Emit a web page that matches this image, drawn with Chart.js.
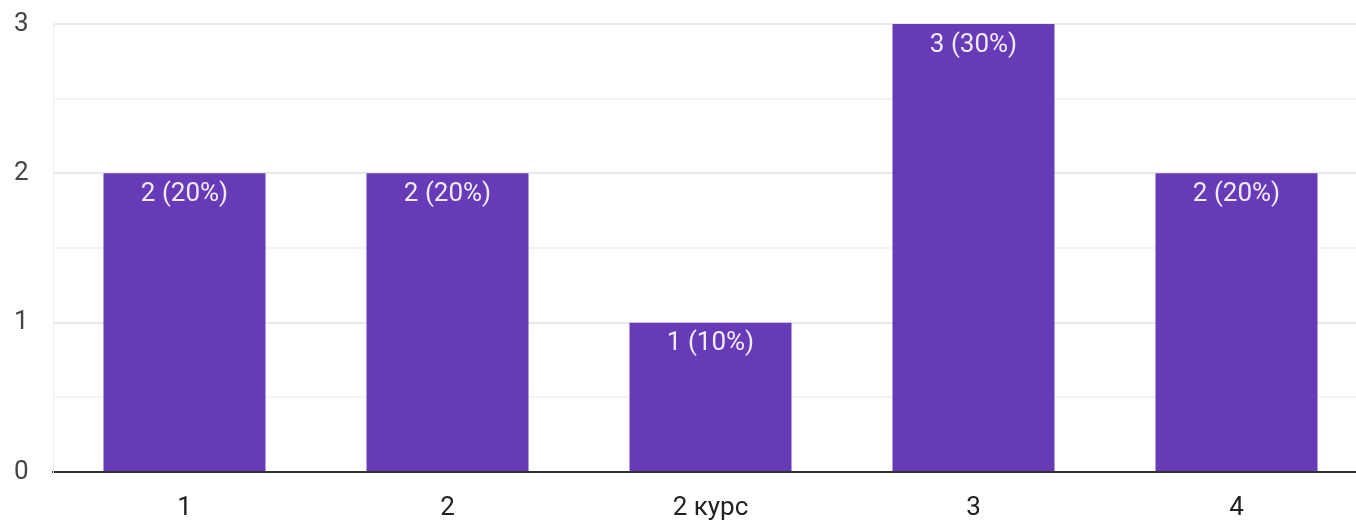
<!DOCTYPE html>
<html>
<head>
<meta charset="utf-8">
<script src="https://cdn.jsdelivr.net/npm/chart.js@4.4.0/dist/chart.umd.min.js"></script>
<style>
  html, body { margin: 0; padding: 0; background: #fff; overflow: hidden; }
  #wrap { width: 1368px; height: 523px; }
</style>
</head>
<body>
<div id="wrap"><canvas id="chart" width="1368" height="523"></canvas></div>
<script>
// данные диаграммы
const categories = ["1", "2", "2 курс", "3", "4"];
const counts = [2, 2, 1, 3, 2];
const yTicks = [0, 1, 2, 3];

const total = counts.reduce((a, b) => a + b, 0);
const barColor = "#673ab7";
const fontFamily = "Roboto, 'Noto Sans', sans-serif";

// подписи внутри столбцов
const barLabels = {
    id: "barLabels",
    afterDatasetsDraw(chart) {
        const ctx = chart.ctx;
        const meta = chart.getDatasetMeta(0);
        ctx.save();
        ctx.fillStyle = "#f1ecfa";
        ctx.font = "26px " + fontFamily;
        ctx.textAlign = "center";
        ctx.textBaseline = "middle";
        meta.data.forEach((bar, i) => {
            const v = counts[i];
            const pct = Math.round(v / total * 100);
            ctx.fillText(v + " (" + pct + "%)", bar.x, bar.y + 21);
        });
        ctx.restore();
    }
};

new Chart(document.getElementById("chart"), {
    type: "bar",
    data: {
        labels: categories,
        datasets: [{
            data: counts,
            backgroundColor: barColor,
            borderWidth: 0,
            categoryPercentage: 1,
            barPercentage: 0.616
        }]
    },
    options: {
        responsive: false,
        animation: false,
        layout: { padding: { top: 24, right: 0, left: 14, bottom: 0 } },
        plugins: { legend: { display: false }, tooltip: { enabled: false } },
        scales: {
            x: {
                grid: { display: false },
                border: { color: "#333", width: 2 },
                ticks: { color: "#222", font: { family: fontFamily, size: 26 }, padding: 13 },
                afterFit(scale) { scale.height = 51; }
            },
            y: {
                min: 0,
                max: 3,
                afterBuildTicks(scale) {
                    const t = [];
                    for (let v = 0; v <= 3; v += 0.5) t.push({ value: v });
                    scale.ticks = t;
                },
                grid: {
                    drawTicks: false,
                    color: c => c.tick.value === 0 ? "rgba(0,0,0,0)" : (Number.isInteger(c.tick.value) ? "#e9e9e9" : "#f4f4f4"),
                    lineWidth: 2
                },
                border: { color: "#eeeeee", width: 1 },
                ticks: {
                    color: "#444",
                    padding: 0,
                    crossAlign: "far",
                    font: { family: fontFamily, size: 26 },
                    callback: v => yTicks.includes(v) ? String(v) : ""
                },
                afterFit(scale) { scale.width = 39; }
            }
        }
    },
    plugins: [barLabels]
});
</script>
</body>
</html>
